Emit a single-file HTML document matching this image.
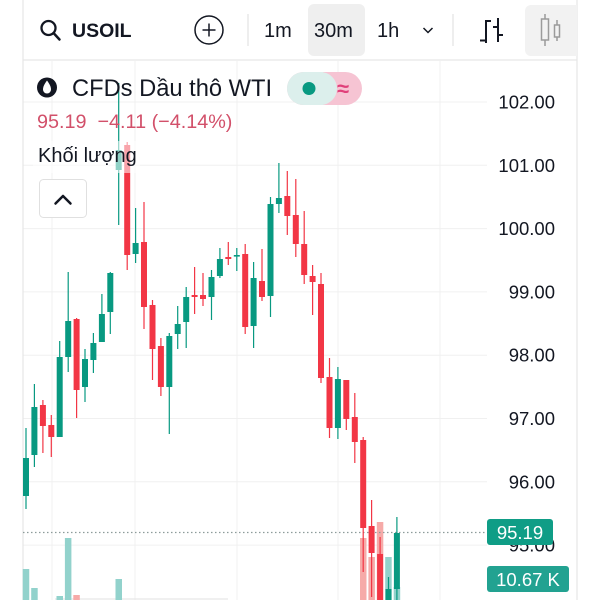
<!DOCTYPE html>
<html>
<head>
<meta charset="utf-8">
<style>
  html,body{margin:0;padding:0;background:#fff;}
  body{width:600px;height:600px;overflow:hidden;position:relative;}
  svg{position:absolute;left:0;top:0;}
  text{font-family:"Liberation Sans","Noto Sans CJK SC",sans-serif;}
</style>
</head>
<body>
<svg width="600" height="600" viewBox="0 0 600 600" xmlns="http://www.w3.org/2000/svg">
  <rect x="0" y="0" width="600" height="600" fill="#ffffff"/>

  <!-- grid -->
  <g stroke="#f0f0f0" stroke-width="1">
    <line x1="52" y1="61" x2="52" y2="600"/>
    <line x1="135" y1="61" x2="135" y2="600"/>
    <line x1="237" y1="61" x2="237" y2="600"/>
    <line x1="338" y1="61" x2="338" y2="600"/>
    <line x1="440" y1="61" x2="440" y2="600"/>
    <line x1="23" y1="102" x2="487" y2="102"/>
    <line x1="23" y1="165.3" x2="487" y2="165.3"/>
    <line x1="23" y1="228.6" x2="487" y2="228.6"/>
    <line x1="23" y1="291.9" x2="487" y2="291.9"/>
    <line x1="23" y1="355.2" x2="487" y2="355.2"/>
    <line x1="23" y1="418.5" x2="487" y2="418.5"/>
    <line x1="23" y1="481.8" x2="487" y2="481.8"/>
    <line x1="23" y1="545.1" x2="487" y2="545.1"/>
  </g>

  <!-- frame borders -->
  <g stroke="#e6e6e6" stroke-width="1.2">
    <line x1="23" y1="0" x2="23" y2="600"/>
    <line x1="577" y1="0" x2="577" y2="600"/>
    <line x1="23" y1="60" x2="577" y2="60"/>
  </g>
  <line x1="55" y1="599" x2="228" y2="599" stroke="#e2e2e2" stroke-width="1"/>

  <!-- volume bars -->
  <g fill="#92d2cc">
    <rect x="22.75" y="569" width="6.5" height="31"/>
    <rect x="31.2" y="588" width="6.5" height="12"/>
    <rect x="56.5" y="596" width="6.5" height="4"/>
    <rect x="64.9" y="538" width="6.5" height="62"/>
    <rect x="115.5" y="579" width="6.5" height="21"/>
    <rect x="385.2" y="557" width="6.5" height="43"/>
    <rect x="393.7" y="587" width="6.5" height="13"/>
  </g>
  <g fill="#f6aaa8">
    <rect x="73.3" y="595" width="6.5" height="5"/>
    <rect x="360" y="538" width="6.5" height="62"/>
    <rect x="368.4" y="557" width="6.5" height="43"/>
    <rect x="376.8" y="522" width="6.5" height="78"/>
  </g>

  <!-- dotted last price line -->
  <line x1="23" y1="532.5" x2="487" y2="532.5" stroke="#8c9b9a" stroke-width="1.2" stroke-dasharray="1.5,2.5"/>

  <!-- green candles -->
  <g fill="#089981">
    <rect x="25.4" y="428" width="1.2" height="81"/><rect x="23" y="458" width="6" height="38"/>
    <rect x="33.8" y="384" width="1.2" height="83"/><rect x="31.4" y="407" width="6" height="48"/>
    <rect x="59.1" y="341" width="1.2" height="96"/><rect x="56.7" y="357" width="6" height="80"/>
    <rect x="67.6" y="272" width="1.2" height="100"/><rect x="65.2" y="321" width="6" height="36"/>
    <rect x="84.4" y="349" width="1.2" height="53"/><rect x="82" y="359" width="6" height="28"/>
    <rect x="92.8" y="333" width="1.2" height="40"/><rect x="90.4" y="343" width="6" height="17"/>
    <rect x="101.3" y="294" width="1.2" height="48"/><rect x="98.9" y="314" width="6" height="28"/>
    <rect x="109.7" y="272" width="1.2" height="62"/><rect x="107.3" y="273" width="6" height="39"/>
    <rect x="118.1" y="83" width="1.2" height="142"/><rect x="115.7" y="150" width="6" height="20"/>
    <rect x="135" y="208" width="1.2" height="55"/><rect x="132.6" y="243" width="6" height="11"/>
    <rect x="168.7" y="333" width="1.2" height="101"/><rect x="166.3" y="336" width="6" height="51"/>
    <rect x="177.1" y="306" width="1.2" height="43"/><rect x="174.7" y="324" width="6" height="10"/>
    <rect x="185.6" y="287" width="1.2" height="61"/><rect x="183.2" y="297" width="6" height="25"/>
    <rect x="210.9" y="270" width="1.2" height="50"/><rect x="208.5" y="277" width="6" height="20"/>
    <rect x="219.3" y="248" width="1.2" height="30"/><rect x="216.9" y="259" width="6" height="17"/>
    <rect x="236.2" y="248" width="1.2" height="23"/><rect x="233.8" y="255" width="6" height="1.6"/>
    <rect x="253" y="262" width="1.2" height="86"/><rect x="250.6" y="278" width="6" height="48"/>
    <rect x="269.9" y="197" width="1.2" height="120"/><rect x="267.5" y="204" width="6" height="92"/>
    <rect x="278.3" y="163" width="1.2" height="50"/><rect x="275.9" y="198" width="6" height="6"/>
    <rect x="337.3" y="367" width="1.2" height="72"/><rect x="334.9" y="379" width="6" height="49"/>
    <rect x="387.9" y="577" width="1.2" height="23"/><rect x="385.5" y="589" width="6" height="11"/>
    <rect x="396.3" y="517" width="1.2" height="83"/><rect x="393.9" y="533" width="6" height="56"/>
  </g>

  <!-- red candles -->
  <g fill="#f23645">
    <rect x="42.3" y="400" width="1.2" height="53"/><rect x="39.9" y="405" width="6" height="21"/>
    <rect x="50.7" y="415" width="1.2" height="42"/><rect x="48.3" y="425" width="6" height="12"/>
    <rect x="76" y="318" width="1.2" height="100"/><rect x="73.6" y="319" width="6" height="71"/>
    <rect x="126.6" y="142" width="1.2" height="128"/><rect x="124.2" y="145" width="6" height="110"/>
    <rect x="143.4" y="202" width="1.2" height="127"/><rect x="141" y="242" width="6" height="65"/>
    <rect x="151.9" y="300" width="1.2" height="80"/><rect x="149.5" y="305" width="6" height="44"/>
    <rect x="160.3" y="338" width="1.2" height="58"/><rect x="157.9" y="346" width="6" height="41"/>
    <rect x="194" y="267" width="1.2" height="47"/><rect x="191.6" y="295" width="6" height="2"/>
    <rect x="202.4" y="273" width="1.2" height="33"/><rect x="200" y="295" width="6" height="4"/>
    <rect x="227.7" y="242" width="1.2" height="23"/><rect x="225.3" y="257" width="6" height="2"/>
    <rect x="244.6" y="244" width="1.2" height="90"/><rect x="242.2" y="254" width="6" height="73"/>
    <rect x="261.4" y="249" width="1.2" height="52"/><rect x="259" y="281" width="6" height="16"/>
    <rect x="286.7" y="171" width="1.2" height="64"/><rect x="284.3" y="196" width="6" height="20"/>
    <rect x="295.2" y="179" width="1.2" height="78"/><rect x="292.8" y="215" width="6" height="29"/>
    <rect x="303.6" y="211" width="1.2" height="73"/><rect x="301.2" y="244" width="6" height="31"/>
    <rect x="312" y="265" width="1.2" height="50"/><rect x="309.6" y="276" width="6" height="6"/>
    <rect x="320.4" y="273" width="1.2" height="110"/><rect x="318" y="284" width="6" height="94"/>
    <rect x="328.9" y="358" width="1.2" height="80"/><rect x="326.5" y="377" width="6" height="51"/>
    <rect x="345.7" y="380" width="1.2" height="50"/><rect x="343.3" y="380" width="6" height="39"/>
    <rect x="354.2" y="393" width="1.2" height="70"/><rect x="351.8" y="417" width="6" height="25"/>
    <rect x="362.6" y="437" width="1.2" height="135"/><rect x="360.2" y="440" width="6" height="88"/>
    <rect x="371" y="500" width="1.2" height="97"/><rect x="368.6" y="526" width="6" height="27"/>
    <rect x="379.5" y="537" width="1.2" height="63"/><rect x="377.1" y="554" width="6" height="46"/>
  </g>

  <!-- legend overlay (semi transparent) -->
  <rect x="33" y="141" width="107" height="32" fill="#ffffff" opacity="0.55"/>

  <!-- toolbar -->
  <rect x="308" y="4" width="57" height="52" rx="6" fill="#efefef"/>
  <path d="M531 5 H577 V56 H531 A6 6 0 0 1 525 50 V11 A6 6 0 0 1 531 5 Z" fill="#f2f2f2"/>
  <!-- search icon -->
  <circle cx="48.5" cy="28" r="7" fill="none" stroke="#131722" stroke-width="2.3"/>
  <line x1="53.5" y1="33" x2="59.5" y2="39.5" stroke="#131722" stroke-width="2.5" stroke-linecap="round"/>
  <text x="72" y="37" font-size="19.5" font-weight="bold" fill="#131722">USOIL</text>
  <!-- plus circle -->
  <circle cx="209" cy="30" r="14" fill="none" stroke="#131722" stroke-width="1.5"/>
  <line x1="202.5" y1="30" x2="215.5" y2="30" stroke="#131722" stroke-width="1.5"/>
  <line x1="209" y1="23.5" x2="209" y2="36.5" stroke="#131722" stroke-width="1.5"/>
  <line x1="248" y1="14" x2="248" y2="46" stroke="#e3e3e3" stroke-width="1.2"/>
  <text x="264" y="37" font-size="20" fill="#131722">1m</text>
  <text x="314" y="37" font-size="20" fill="#131722">30m</text>
  <text x="377" y="37" font-size="20" fill="#131722">1h</text>
  <polyline points="423.5,28 428,32.5 432.5,28" fill="none" stroke="#131722" stroke-width="1.5"/>
  <line x1="453" y1="14" x2="453" y2="46" stroke="#e3e3e3" stroke-width="1.2"/>
  <!-- bars icon -->
  <g stroke="#131722" stroke-width="2" fill="none">
    <line x1="486" y1="20" x2="486" y2="43"/>
    <line x1="486" y1="21" x2="491" y2="21"/>
    <line x1="480" y1="40.5" x2="486" y2="40.5"/>
    <line x1="498" y1="18" x2="498" y2="42"/>
    <line x1="493" y1="27" x2="498" y2="27"/>
    <line x1="498" y1="35" x2="503" y2="35"/>
  </g>
  <!-- candle icon -->
  <g stroke="#9b9b9b" stroke-width="1.5" fill="none">
    <line x1="545" y1="14" x2="545" y2="46"/>
    <rect x="541.5" y="19" width="7" height="21" fill="#f2f2f2"/>
    <line x1="557" y1="20" x2="557" y2="41"/>
    <rect x="554.5" y="25" width="5" height="12" fill="#f2f2f2"/>
  </g>

  <!-- header -->
  <circle cx="47" cy="87.5" r="10" fill="#131722"/>
  <path d="M47 80.5 C44.5 84 43 86.5 43 89.5 A4 4 0 0 0 51 89.5 C51 86.5 49.5 84 47 80.5 Z" fill="#ffffff"/>
  <text x="72" y="96" font-size="23.7" fill="#131722">CFDs Dầu thô WTI</text>
  <rect x="287" y="72" width="75" height="33" rx="16.5" fill="#f6c4d3"/>
  <rect x="287" y="72" width="50" height="33" rx="16.5" fill="#dcefec"/>
  <rect x="312" y="72" width="11" height="33" fill="#dcefec"/>
  <circle cx="309" cy="88.5" r="6.5" fill="#089981"/>
  <text x="343" y="96" font-size="22" text-anchor="middle" fill="#e0407a" font-weight="bold">≈</text>

  <text x="37" y="128" font-size="19.8" fill="#d2506a" style="white-space:pre">95.19  −4.11 (−4.14%)</text>
  <text x="38" y="162" font-size="20" fill="#131722">Khối lượng</text>

  <!-- collapse button -->
  <rect x="39.5" y="179.5" width="47" height="38" rx="4" fill="#ffffff" stroke="#e0e0e0" stroke-width="1"/>
  <polyline points="55.5,203.5 63,196 70.5,203.5" fill="none" stroke="#131722" stroke-width="2.5" stroke-linecap="round" stroke-linejoin="round"/>

  <!-- price axis -->
  <g font-size="18.5" fill="#131722" text-anchor="end">
    <text x="555" y="108.5">102.00</text>
    <text x="555" y="171.8">101.00</text>
    <text x="555" y="235">100.00</text>
    <text x="555" y="298.4">99.00</text>
    <text x="555" y="361.7">98.00</text>
    <text x="555" y="425">97.00</text>
    <text x="555" y="488.3">96.00</text>
    <text x="555" y="551.6">95.00</text>
  </g>

  <!-- last price label -->
  <rect x="487" y="519" width="66" height="26" rx="3" fill="#0f9d86"/>
  <text x="520" y="539" font-size="18.5" fill="#ffffff" text-anchor="middle">95.19</text>
  <!-- volume label -->
  <rect x="487" y="566" width="82" height="26" rx="3" fill="#22a291"/>
  <text x="528" y="586" font-size="18.5" fill="#ffffff" text-anchor="middle">10.67 K</text>
</svg>
</body>
</html>
